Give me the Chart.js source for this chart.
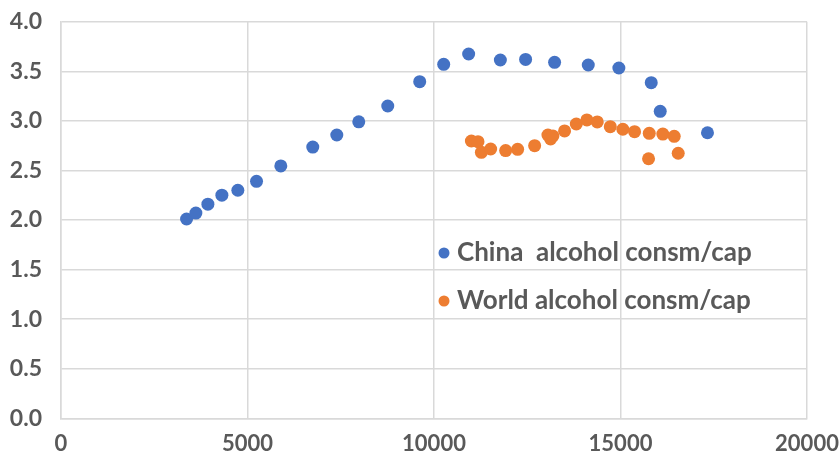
<!DOCTYPE html>
<html>
<head>
<meta charset="utf-8">
<script src="https://cdn.jsdelivr.net/npm/chart.js@4"></script>
<style>
  html, body { margin: 0; padding: 0; background: #fff; }
  #wrap { width: 840px; height: 459px; }
</style>
</head>
<body>
<div id="wrap"><canvas id="chart"></canvas></div>
<script>
// values (GDP per cap -> alcohol consumption per cap)
const chinaX = [3367, 3616, 3938, 4313, 4741, 5242, 5893, 6750, 7394, 7983, 8760,
    9617, 10260, 10929, 11779, 12456, 13233, 14136, 14956, 15824, 16065, 17332];
const chinaY = [2.01, 2.07, 2.16, 2.25, 2.30, 2.39, 2.545, 2.735, 2.857, 2.99, 3.15,
    3.395, 3.57, 3.674, 3.614, 3.62, 3.59, 3.563, 3.533, 3.385, 3.096, 2.88];
const worldX = [11002, 11179, 11270, 11519, 11921, 12242, 12698, 13054, 13126, 13188, 13501,
    13815, 14099, 14377, 14726, 15063, 15377, 15771, 15752, 16135, 16440, 16547];
const worldY = [2.797, 2.79, 2.683, 2.716, 2.70, 2.713, 2.75, 2.857, 2.817, 2.847, 2.898,
    2.968, 3.009, 2.989, 2.941, 2.915, 2.891, 2.874, 2.618, 2.867, 2.844, 2.673];
const seriesNames = ['China  alcohol consm/cap', 'World alcohol consm/cap'];
const seriesColors = ['#4472C4', '#ED7D31'];

const xTicks = [0, 5000, 10000, 15000, 20000];
const yTicks = [0, 0.5, 1, 1.5, 2, 2.5, 3, 3.5, 4];

function toPoints(xs, ys) {
    return xs.map((x, i) => ({ x: x, y: ys[i] }));
}

const textColor = '#595959';
const gridColor = '#d9d9d9';
const fontFamily = 'Lato, "Open Sans", sans-serif';

// legend drawn inside the plot area, like the original
const innerLegend = {
    id: 'innerLegend',
    afterDraw(chart) {
        const ctx = chart.ctx;
        const rows = [253, 301];
        ctx.save();
        chart.data.datasets.forEach((ds, i) => {
            ctx.beginPath();
            ctx.fillStyle = ds.backgroundColor;
            ctx.arc(444, rows[i], 5.5, 0, Math.PI * 2);
            ctx.fill();
            ctx.fillStyle = textColor;
            ctx.font = 'bold 26px ' + fontFamily;
            ctx.textBaseline = 'middle';
            ctx.textAlign = 'left';
            ctx.fillText(ds.label, 457, rows[i]);
        });
        ctx.restore();
    }
};

new Chart(document.getElementById('chart').getContext('2d'), {
    type: 'scatter',
    data: {
        datasets: [{
            label: seriesNames[0],
            data: toPoints(chinaX, chinaY),
            backgroundColor: seriesColors[0],
            borderColor: seriesColors[0],
            pointRadius: 6.5,
            borderWidth: 0
        }, {
            label: seriesNames[1],
            data: toPoints(worldX, worldY),
            backgroundColor: seriesColors[1],
            borderColor: seriesColors[1],
            pointRadius: 6.5,
            borderWidth: 0
        }]
    },
    options: {
        responsive: true,
        maintainAspectRatio: false,
        animation: false,
        layout: { padding: { left: 0, right: 33, top: 21.7, bottom: 0 } },
        plugins: {
            legend: { display: false },
            tooltip: { enabled: false }
        },
        scales: {
            x: {
                type: 'linear',
                min: 0,
                max: 20000,
                afterBuildTicks: (axis) => { axis.ticks = xTicks.map(v => ({ value: v })); },
                afterFit: (axis) => {
                    axis.height = 40.7;
                    axis.paddingLeft = 0;
                    axis.paddingRight = 0;
                },
                grid: { color: gridColor, lineWidth: 1.5, drawTicks: false },
                border: { color: gridColor, width: 1.5 },
                ticks: {
                    color: textColor,
                    padding: 12,
                    maxRotation: 0,
                    font: { family: fontFamily, size: 22, weight: 'bold' },
                    callback: (v) => String(v)
                }
            },
            y: {
                min: 0,
                max: 4,
                afterBuildTicks: (axis) => { axis.ticks = yTicks.map(v => ({ value: v })); },
                afterFit: (axis) => {
                    axis.width = 61;
                    axis.paddingTop = 0;
                    axis.paddingBottom = 0;
                },
                grid: { color: gridColor, lineWidth: 1.5, drawTicks: false },
                border: { color: gridColor, width: 1.5 },
                ticks: {
                    color: textColor,
                    padding: 19,
                    font: { family: fontFamily, size: 23, weight: 'bold' },
                    callback: (v) => Number(v).toFixed(1)
                }
            }
        }
    },
    plugins: [innerLegend]
});
</script>
</body>
</html>
